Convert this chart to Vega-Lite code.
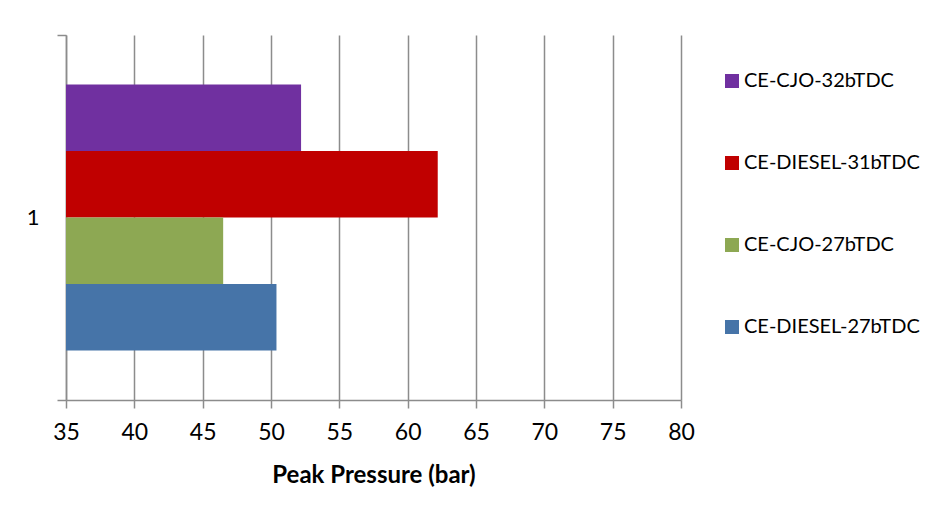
{
  "$schema": "https://vega.github.io/schema/vega-lite/v6.json",
  "width": 615,
  "height": 365,
  "autosize": {"type": "none"},
  "padding": {"left": 66, "top": 35, "right": 270, "bottom": 121},
  "background": "white",
  "config": {
    "view": {"stroke": null},
    "font": "Lato",
    "axis": {"labelFont": "Lato", "titleFont": "Lato"},
    "legend": {"labelFont": "Lato"}
  },
  "datasets": {
    "pressure": [
      {"cat": "1", "series": "CE-CJO-32bTDC", "peak": 52.2},
      {"cat": "1", "series": "CE-DIESEL-31bTDC", "peak": 62.2},
      {"cat": "1", "series": "CE-CJO-27bTDC", "peak": 46.5},
      {"cat": "1", "series": "CE-DIESEL-27bTDC", "peak": 50.4}
    ],
    "edges": [{"pos": 0}, {"pos": 1}]
  },
  "layer": [
    {
      "data": {"name": "pressure"},
      "mark": {"type": "bar", "clip": true},
      "encoding": {
        "y": {
          "field": "cat",
          "type": "nominal",
          "scale": {"paddingInner": 0, "paddingOuter": 0.186},
          "axis": {
            "title": null,
            "ticks": false,
            "grid": false,
            "domainColor": "#8c8c8c",
            "domainWidth": 1.5,
            "labelFontSize": 22,
            "labelColor": "#000000",
            "labelPadding": 27,
            "labelAngle": 0
          }
        },
        "yOffset": {
          "field": "series",
          "type": "nominal",
          "sort": ["CE-CJO-32bTDC", "CE-DIESEL-31bTDC", "CE-CJO-27bTDC", "CE-DIESEL-27bTDC"],
          "scale": {"paddingInner": 0, "paddingOuter": 0}
        },
        "x": {
          "field": "peak",
          "type": "quantitative",
          "scale": {"domain": [35, 80], "zero": false, "nice": false},
          "axis": {
            "title": "Peak Pressure (bar)",
            "titleFontSize": 24,
            "titleFontWeight": "bold",
            "titleColor": "#000000",
            "titlePadding": 19,
            "values": [35, 40, 45, 50, 55, 60, 65, 70, 75, 80],
            "labelFontSize": 23,
            "labelFlush": false,
            "labelOverlap": false,
            "labelColor": "#000000",
            "labelPadding": 13,
            "tickSize": 8,
            "tickColor": "#8c8c8c",
            "tickWidth": 1.5,
            "domainColor": "#8c8c8c",
            "domainWidth": 1.5,
            "grid": true,
            "gridColor": "#8c8c8c",
            "gridWidth": 1.5
          }
        },
        "color": {
          "field": "series",
          "type": "nominal",
          "scale": {
            "domain": ["CE-CJO-32bTDC", "CE-DIESEL-31bTDC", "CE-CJO-27bTDC", "CE-DIESEL-27bTDC"],
            "range": ["#7030A0", "#C00000", "#8DA853", "#4674A8"]
          },
          "legend": {
            "title": null,
            "orient": "none",
            "legendX": 656,
            "legendY": 36,
            "symbolType": "square",
            "symbolSize": 196,
            "symbolStrokeWidth": 0,
            "labelFontSize": 20,
            "labelLimit": 400,
            "labelColor": "#000000",
            "labelOffset": 2,
            "rowPadding": 62
          }
        }
      }
    },
    {
      "data": {"name": "edges"},
      "mark": {"type": "point", "opacity": 0},
      "encoding": {
        "y": {
          "field": "pos",
          "type": "quantitative",
          "scale": {"domain": [0, 1], "nice": false},
          "axis": {
            "orient": "left",
            "values": [0, 1],
            "labels": false,
            "domain": false,
            "grid": false,
            "title": null,
            "tickSize": 9,
            "tickColor": "#8c8c8c",
            "tickWidth": 1.5
          }
        }
      }
    }
  ],
  "resolve": {"scale": {"y": "independent"}, "axis": {"y": "independent"}}
}
